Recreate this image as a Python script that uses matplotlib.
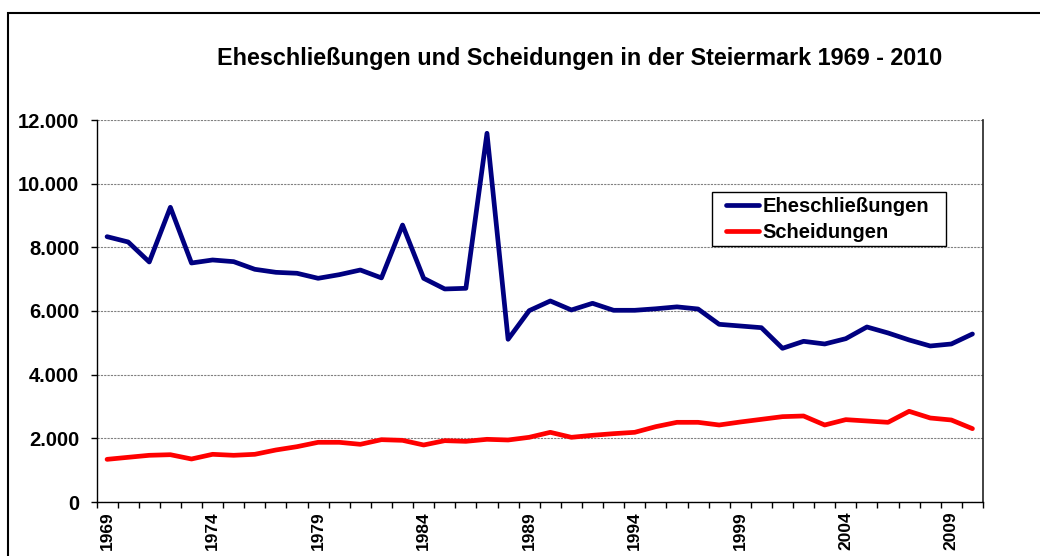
import matplotlib
matplotlib.use("Agg")
import matplotlib.pyplot as plt
from matplotlib.ticker import FixedLocator, FuncFormatter, NullFormatter
from matplotlib.patches import Rectangle

years = list(range(1969, 2011))
eheschliessungen = [8335, 8168, 7540, 9258, 7508, 7603, 7550, 7310, 7215, 7185,
                    7027, 7141, 7288, 7040, 8700, 7027, 6692, 6713, 11583, 5111,
                    6011, 6315, 6032, 6242, 6022, 6022, 6070, 6130, 6063, 5582,
                    5529, 5476, 4828, 5048, 4964, 5131, 5498, 5310, 5090, 4901,
                    4964, 5278]
scheidungen = [1340, 1404, 1467, 1486, 1351, 1498, 1467, 1498, 1634, 1738,
               1875, 1875, 1812, 1958, 1937, 1791, 1927, 1906, 1969, 1948,
               2032, 2189, 2032, 2095, 2147, 2189, 2367, 2503, 2503, 2419,
               2513, 2597, 2681, 2702, 2419, 2587, 2545, 2503, 2849, 2639,
               2576, 2304]
label_years = [1969, 1974, 1979, 1984, 1989, 1994, 1999, 2004, 2009]
y_ticks = [0, 2000, 4000, 6000, 8000, 10000, 12000]
title = "Eheschließungen und Scheidungen in der Steiermark 1969 - 2010"

plt.rcParams['font.family'] = ['Liberation Sans', 'DejaVu Sans']
plt.rcParams['font.weight'] = 'bold'

W, H = 1040, 556
fig = plt.figure(figsize=(W / 100, H / 100), dpi=100)
fig.patch.set_facecolor('white')

# outer chart frame
fig.add_artist(Rectangle((8 / W, -0.05), 1.2, 1 - 13 / H + 0.05,
                         transform=fig.transFigure, fill=False,
                         edgecolor='black', linewidth=1.5))

left, right, top, bottom = 96.5, 983, 120, 502
ax = fig.add_axes([left / W, 1 - bottom / H, (right - left) / W, (bottom - top) / H])

x = list(range(len(years)))
ax.plot(x, eheschliessungen, color='#000080', linewidth=3.4, label='Eheschließungen',
        solid_joinstyle='round', solid_capstyle='round', zorder=3)
ax.plot(x, scheidungen, color='#FF0000', linewidth=3.4, label='Scheidungen',
        solid_joinstyle='round', solid_capstyle='round', zorder=3)

ax.set_xlim(-0.5, len(years) - 0.5)
ax.set_ylim(0, 12000)

ax.yaxis.set_major_locator(FixedLocator(y_ticks))
ax.yaxis.set_major_formatter(FuncFormatter(lambda v, p: f"{int(v):,}".replace(",", ".")))
ax.tick_params(axis='y', direction='out', length=4.5, width=1, pad=8, labelsize=14.5)

ax.xaxis.set_major_locator(FixedLocator([i - 0.5 for i in range(len(years) + 1)]))
ax.xaxis.set_major_formatter(NullFormatter())
ax.tick_params(axis='x', which='major', direction='out', length=4.5, width=1)
ax.xaxis.set_minor_locator(FixedLocator([years.index(y) for y in label_years]))
ax.set_xticklabels([str(y) for y in label_years], minor=True, rotation=90)
ax.tick_params(axis='x', which='minor', length=0, pad=7, labelsize=12.5)
for lbl in ax.get_xticklabels(minor=True) + ax.get_yticklabels():
    lbl.set_fontweight('bold')

ax.grid(axis='y', color='#808080', linestyle=(0, (2, 1)), linewidth=0.8, zorder=1)
ax.set_axisbelow(True)

for s in ['left', 'bottom']:
    ax.spines[s].set_color('black')
    ax.spines[s].set_linewidth(1.0)
ax.spines['right'].set_color('#222222')
ax.spines['right'].set_linewidth(1.2)
ax.spines['top'].set_visible(False)

# legend frame drawn separately, legend entries without frame
def ax_x(px):
    return (px - left) / (right - left)

def ax_y(py):
    return (bottom - py) / (bottom - top)

ax.add_patch(Rectangle((ax_x(712), ax_y(246)), ax_x(946) - ax_x(712), ax_y(192) - ax_y(246),
                       transform=ax.transAxes, facecolor='white', edgecolor='black',
                       linewidth=1.0, zorder=4))
leg = ax.legend(loc='upper left', bbox_to_anchor=(ax_x(726), ax_y(197)),
                borderaxespad=0, frameon=False, borderpad=0,
                prop={'weight': 'bold', 'size': 14.5}, handlelength=1.65, handletextpad=0.15,
                labelspacing=0.37)
leg.set_zorder(5)

fig.text(580 / W, 1 - 58 / H, title, ha='center', va='center', fontsize=16.8, fontweight='bold')

fig.savefig('out.png', dpi=100, facecolor='white')
